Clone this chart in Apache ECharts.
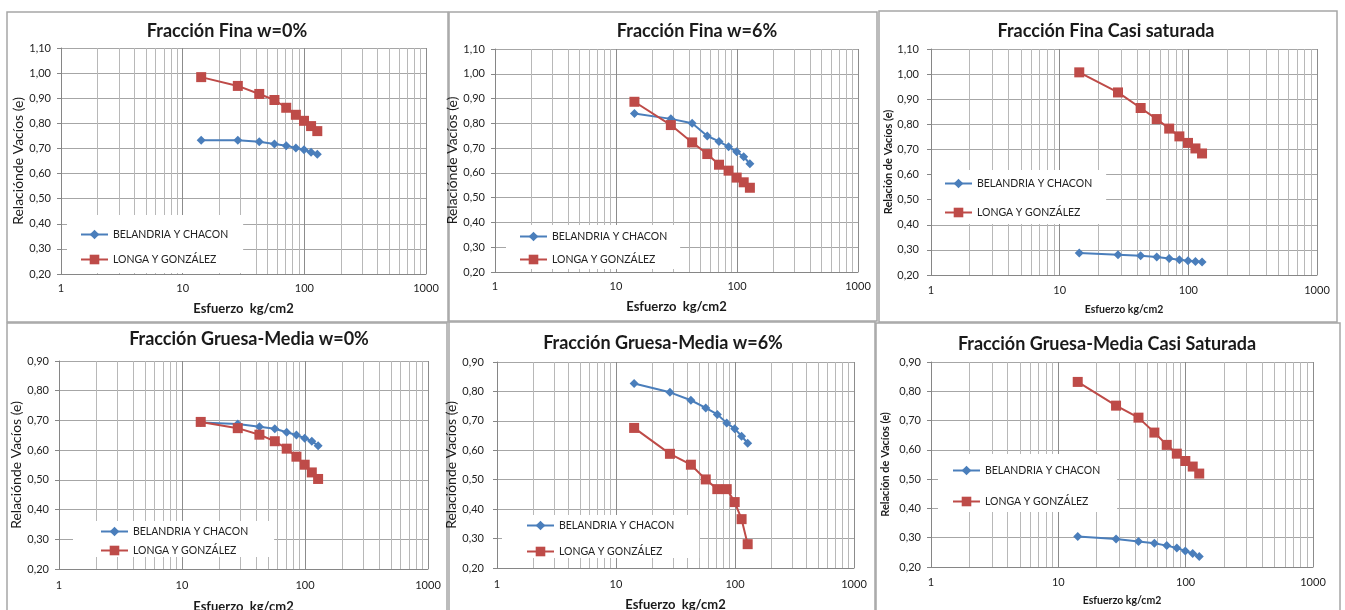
<!DOCTYPE html>
<html>
<head>
<meta charset="utf-8">
<script src="https://cdn.jsdelivr.net/npm/echarts@6/dist/echarts.min.js"></script>
<style>
  html, body { margin: 0; padding: 0; background: #fff; }
  #chart { width: 1345px; height: 610px; }
</style>
</head>
<body>
<div id="chart"></div>
<script>
// esfuerzo aplicado (kg/cm2), el mismo para todos los ensayos
const esfuerzo = [14.2, 28.4, 42.6, 56.8, 71.0, 85.2, 99.4, 113.6, 127.8]
// lineas secundarias de la escala logaritmica
const minorX = [2, 3, 4, 5, 6, 7, 8, 9, 20, 30, 40, 50, 60, 70, 80, 90, 200, 300, 400, 500, 600, 700, 800, 900]
const serieNames = ['BELANDRIA Y CHACON', 'LONGA Y GONZÁLEZ']

const titles = [
  'Fracción Fina w=0%',
  'Fracción Fina w=6%',
  'Fracción Fina Casi saturada',
  'Fracción Gruesa-Media w=0%',
  'Fracción Gruesa-Media w=6%',
  'Fracción Gruesa-Media Casi Saturada'
]

// relacion de vacios (e)
const fina0Belandria = [0.733, 0.733, 0.727, 0.718, 0.711, 0.702, 0.695, 0.685, 0.677]
const fina0Longa = [0.984, 0.949, 0.917, 0.893, 0.862, 0.834, 0.810, 0.789, 0.769]
const fina6Belandria = [0.840, 0.818, 0.800, 0.749, 0.727, 0.705, 0.685, 0.665, 0.637]
const fina6Longa = [0.887, 0.793, 0.723, 0.676, 0.633, 0.609, 0.581, 0.562, 0.540]
const finaSatBelandria = [0.288, 0.281, 0.277, 0.272, 0.266, 0.261, 0.257, 0.254, 0.252]
const finaSatLonga = [1.007, 0.927, 0.865, 0.821, 0.783, 0.752, 0.726, 0.704, 0.684]
const gruesa0Belandria = [0.693, 0.688, 0.679, 0.672, 0.660, 0.651, 0.640, 0.630, 0.615]
const gruesa0Longa = [0.695, 0.674, 0.652, 0.630, 0.605, 0.578, 0.551, 0.525, 0.503]
const gruesa6Belandria = [0.827, 0.797, 0.770, 0.744, 0.722, 0.693, 0.673, 0.648, 0.624]
const gruesa6Longa = [0.676, 0.588, 0.551, 0.501, 0.468, 0.468, 0.424, 0.366, 0.281]
const gruesaSatBelandria = [0.304, 0.296, 0.287, 0.281, 0.273, 0.265, 0.255, 0.246, 0.236]
const gruesaSatLonga = [0.832, 0.751, 0.710, 0.659, 0.617, 0.587, 0.562, 0.543, 0.519]

const BLUE = '#4A7EBB'
const RED = '#BE4B48'
const FONT = 'Lato'

// posicion de cada grafico dentro de la pagina
const panels = [
  {frame: [7, 12, 441, 310], tx: 227, ty: 31, grid: [61, 48, 365, 226], ymin: 0.2, ymax: 1.1,
    yName: 'Relaciónde Vacíos (e)', yGap: 33, ySize: 14, yBold: false, yLabMargin: 10,
    xName: 'Esfuerzo  kg/cm2', xGap: 28, xSize: 13, xLabMargin: 9,
    legend: {left: 67, top: 215, padding: [14, 15, 8, 13], gap: 14},
    blue: fina0Belandria, red: fina0Longa},
  {frame: [449, 12, 428, 309], tx: 697, ty: 31, grid: [495, 49, 363, 223], ymin: 0.2, ymax: 1.1,
    yName: 'Relaciónde Vacíos (e)', yGap: 30, ySize: 14, yBold: false, yLabMargin: 10,
    xName: 'Esfuerzo  kg/cm2', xGap: 28, xSize: 13, xLabMargin: 9,
    legend: {left: 506, top: 225, padding: [6, 13, 4, 13], gap: 12},
    blue: fina6Belandria, red: fina6Longa},
  {frame: [879, 11, 458, 311], tx: 1106, ty: 31, grid: [931, 49, 386, 226], ymin: 0.2, ymax: 1.1,
    yName: 'Relación de Vacíos (e)', yGap: 37, ySize: 11, yBold: true, yLabMargin: 12,
    xName: 'Esfuerzo kg/cm2', xGap: 29, xSize: 10.5, xLabMargin: 10,
    legend: {left: 932, top: 170, padding: [8, 14, 6, 12], gap: 18},
    blue: finaSatBelandria, red: finaSatLonga},
  {frame: [7, 323, 440, 300], tx: 249, ty: 339, grid: [59, 361, 369, 208], ymin: 0.2, ymax: 0.9,
    yName: 'Relaciónde Vacíos (e)', yGap: 31, ySize: 14, yBold: false, yLabMargin: 10,
    xName: 'Esfuerzo  kg/cm2', xGap: 31, xSize: 13, xLabMargin: 11,
    legend: {left: 73, top: 521, padding: [5, 26, 1, 27], gap: 8},
    blue: gruesa0Belandria, red: gruesa0Longa},
  {frame: [449, 322, 426, 300], tx: 663, ty: 343, grid: [497, 362, 357, 206], ymin: 0.2, ymax: 0.9,
    yName: 'Relaciónde Vacíos (e)', yGap: 28, ySize: 14, yBold: false, yLabMargin: 13,
    xName: 'Esfuerzo  kg/cm2', xGap: 30, xSize: 13, xLabMargin: 11,
    legend: {left: 502, top: 515, padding: [5, 25, 1, 24], gap: 15},
    blue: gruesa6Belandria, red: gruesa6Longa},
  {frame: [876, 323, 464, 300], tx: 1107, ty: 344, grid: [931, 362, 382, 205], ymin: 0.2, ymax: 0.9,
    yName: 'Relación de Vacíos (e)', yGap: 40, ySize: 11, yBold: true, yLabMargin: 10,
    xName: 'Esfuerzo kg/cm2', xGap: 28, xSize: 10.5, xLabMargin: 10,
    legend: {left: 938, top: 454, padding: [11, 17, 5, 14], gap: 20},
    blue: gruesaSatBelandria, red: gruesaSatLonga}
]

const pair = ys => esfuerzo.map((x, i) => [x, ys[i]])

const grid = [], xAxis = [], yAxis = [], series = [], legend = [], graphic = []

panels.forEach((p, i) => {
  graphic.push({
    type: 'rect', silent: true, z: 0,
    shape: {x: p.frame[0], y: p.frame[1], width: p.frame[2], height: p.frame[3]},
    style: {fill: 'none', stroke: '#a6a6a6', lineWidth: 1.5}
  })
  graphic.push({
    type: 'text', silent: true, x: p.tx, y: p.ty,
    style: {text: titles[i], font: `bold 18px ${FONT}`, fill: '#1a1a1a', align: 'center', verticalAlign: 'middle'}
  })

  grid.push({left: p.grid[0], top: p.grid[1], width: p.grid[2], height: p.grid[3], containLabel: false, outerBoundsMode: 'none'})

  xAxis.push({
    type: 'log', logBase: 10, min: 1, max: 1000, gridIndex: i,
    name: p.xName, nameLocation: 'middle', nameGap: p.xGap,
    nameTextStyle: {fontFamily: FONT, fontSize: p.xSize, fontWeight: 'bold', color: '#1a1a1a'},
    axisLine: {show: true, lineStyle: {color: '#868686', width: 1}},
    axisTick: {show: false},
    axisLabel: {margin: p.xLabMargin, fontFamily: FONT, fontSize: 11, color: '#222', formatter: v => String(Math.round(v))},
    splitLine: {show: true, lineStyle: {color: '#8c8c8c', width: 1}}
  })

  yAxis.push({
    type: 'value', min: p.ymin, max: p.ymax, interval: 0.1, gridIndex: i,
    name: p.yName, nameLocation: 'middle', nameRotate: 90, nameGap: p.yGap,
    nameTextStyle: {fontFamily: FONT, fontSize: p.ySize, fontWeight: p.yBold ? 'bold' : 'normal', color: '#1a1a1a'},
    axisLine: {show: true, lineStyle: {color: '#868686', width: 1}},
    axisTick: {show: true, length: 4, lineStyle: {color: '#868686'}},
    axisLabel: {margin: p.yLabMargin, fontFamily: FONT, fontSize: 11, color: '#222', formatter: v => v.toFixed(2).replace('.', ',')},
    splitLine: {show: true, lineStyle: {color: '#a6a6a6', width: 1}}
  })

  series.push({
    name: serieNames[0], type: 'line', xAxisIndex: i, yAxisIndex: i, z: 3,
    data: pair(p.blue), symbol: 'diamond', symbolSize: 9,
    itemStyle: {color: BLUE}, lineStyle: {color: BLUE, width: 2},
    markLine: {
      silent: true, z: 1, symbol: ['none', 'none'], label: {show: false}, animation: false,
      lineStyle: {color: '#b8b8b8', width: 1, type: 'solid'},
      emphasis: {disabled: true},
      data: minorX.map(v => ({xAxis: v}))
    }
  })
  series.push({
    name: serieNames[1], type: 'line', xAxisIndex: i, yAxisIndex: i, z: 3,
    data: pair(p.red), symbol: 'rect', symbolSize: 10,
    itemStyle: {color: RED}, lineStyle: {color: RED, width: 2}
  })

  legend.push({
    data: serieNames, orient: 'vertical', left: p.legend.left, top: p.legend.top,
    padding: p.legend.padding, itemGap: p.legend.gap, itemWidth: 27, itemHeight: 12,
    backgroundColor: '#fff', selectedMode: false,
    textStyle: {fontFamily: FONT, fontSize: 10.5, color: '#222'}
  })
})

const myChart = echarts.init(document.getElementById('chart'))
myChart.setOption({
  animation: false,
  textStyle: {fontFamily: FONT},
  grid, xAxis, yAxis, series, legend, graphic
})
</script>
</body>
</html>
